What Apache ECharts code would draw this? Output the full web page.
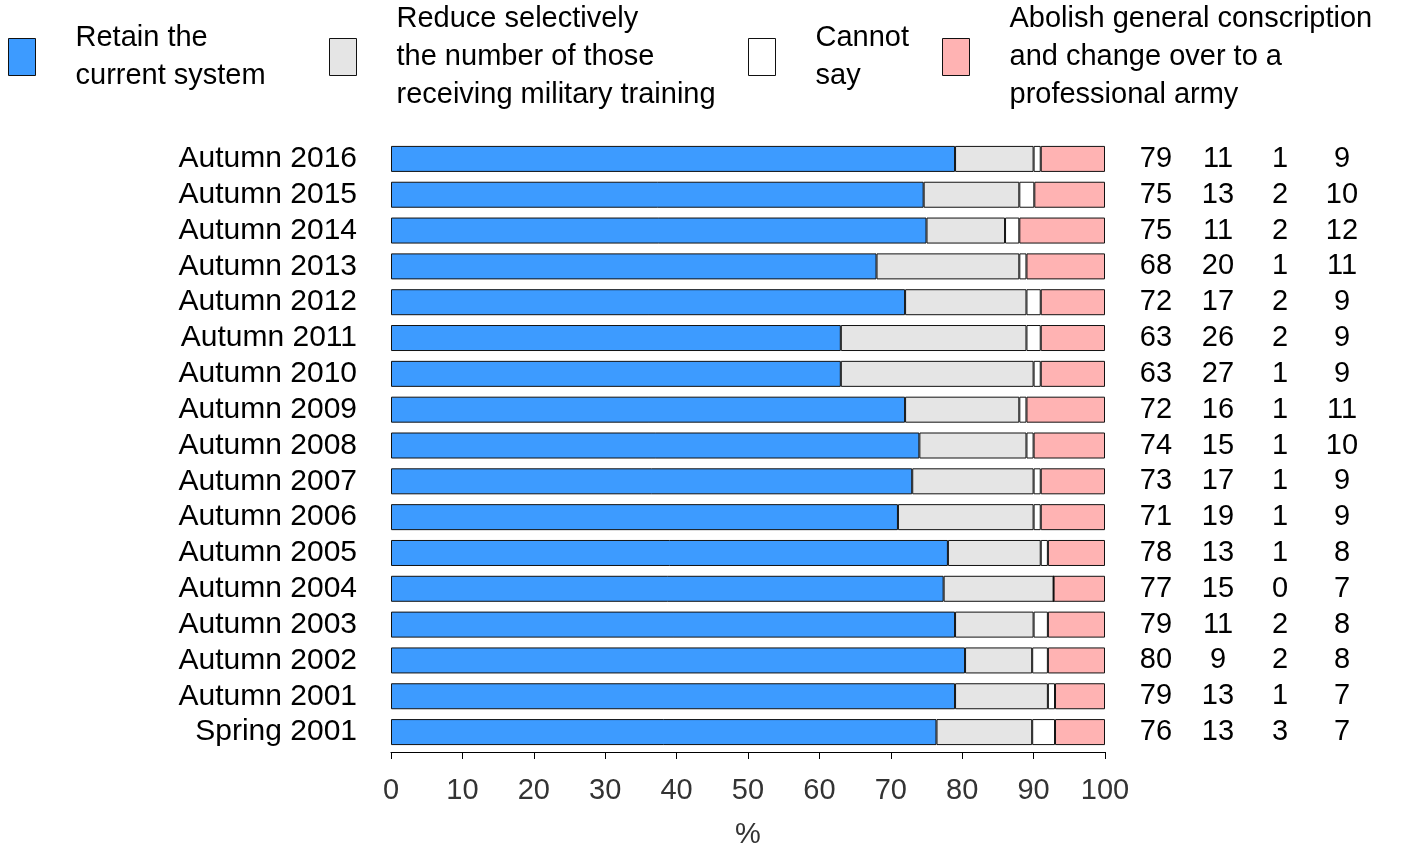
<!DOCTYPE html>
<html>
<head>
<meta charset="utf-8">
<script src="https://cdn.jsdelivr.net/npm/echarts@6/dist/echarts.min.js"></script>
<style>
html,body{margin:0;padding:0;background:#fff;}
#chart{width:1413px;height:848px;}
</style>
</head>
<body>
<div id="chart"></div>
<script>
const categories = ['Autumn 2016','Autumn 2015','Autumn 2014','Autumn 2013','Autumn 2012','Autumn 2011','Autumn 2010','Autumn 2009','Autumn 2008','Autumn 2007','Autumn 2006','Autumn 2005','Autumn 2004','Autumn 2003','Autumn 2002','Autumn 2001','Spring 2001'];
const seriesNames = ['Retain the\ncurrent system','Reduce selectively\nthe number of those\nreceiving military training','Cannot\nsay','Abolish general conscription\nand change over to a\nprofessional army'];
// bar lengths
const retain    = [79, 74.6, 75, 68, 72, 63, 63, 72, 74, 73, 71, 78, 77.4, 79, 80.4, 79, 76.4];
const reduce    = [11, 13.4, 11, 20, 17, 26, 27, 16, 15, 17, 19, 13, 15.4, 11, 9.4, 13, 13.4];
const cannotSay = [1, 2.1, 2, 1, 2, 2, 1, 1, 1, 1, 1, 1, 0, 2, 2.2, 1, 3.2];
const abolish   = [9, 9.9, 12, 11, 9, 9, 9, 11, 10, 9, 9, 8, 7.2, 8, 8, 7, 7];
// printed values on the right
const labelRetain  = [79,75,75,68,72,63,63,72,74,73,71,78,77,79,80,79,76];
const labelReduce  = [11,13,11,20,17,26,27,16,15,17,19,13,15,11,9,13,13];
const labelCannot  = [1,2,2,1,2,2,1,1,1,1,1,1,0,2,2,1,3];
const labelAbolish = [9,10,12,11,9,9,9,11,10,9,9,8,7,8,8,7,7];
const xTicks = [0,10,20,30,40,50,60,70,80,90,100];

const colors = ['#3d9bff','#e5e5e5','#ffffff','#ffb3b3'];
const FONT = 'Liberation Sans, Arial, sans-serif';

const chart = echarts.init(document.getElementById('chart'));
const values = [retain, reduce, cannotSay, abolish];
const labelCols = [labelRetain, labelReduce, labelCannot, labelAbolish];

const barSeries = values.map((arr, i) => ({
  name: seriesNames[i],
  type: 'bar',
  stack: 'total',
  xAxisIndex: 0, yAxisIndex: 0,
  barWidth: 26,
  itemStyle: { color: colors[i], borderColor: '#111', borderWidth: 1 },
  data: arr,
  animation: false
}));

const textData = [];
labelCols.forEach((col, c) => col.forEach((v, r) => textData.push({ value: [c, r], label: { formatter: String(v) } })));

const legendBase = (name, left, top) => ({
  data: [name], left: left, top: top, orient: 'horizontal', padding: 0,
  itemWidth: 27, itemHeight: 37, selectedMode: false,
  icon: 'rect',
  itemStyle: { borderColor: '#111', borderWidth: 1 },
  textStyle: { fontFamily: FONT, fontSize: 29, color: '#000', lineHeight: 38, padding: [0,0,0,35] }
});

chart.setOption({
  animation: false,
  backgroundColor: '#fff',
  legend: [
    legendBase(seriesNames[0], 8, 19),
    legendBase(seriesNames[1], 329, 0),
    legendBase(seriesNames[2], 748, 19),
    legendBase(seriesNames[3], 942, 0)
  ],
  grid: [
    { left: 391, right: 308, top: 141, bottom: 98, containLabel: false, outerBoundsMode: 'none' },
    { left: 1125, width: 248, top: 141, bottom: 98, containLabel: false, outerBoundsMode: 'none' }
  ],
  xAxis: [
    { type: 'value', gridIndex: 0, min: 0, max: 100, interval: 10, offset: 2,
      splitLine: { show: false },
      axisLine: { show: true, lineStyle: { color: '#000', width: 1 } },
      axisTick: { show: true, length: 7, lineStyle: { color: '#000' } },
      axisLabel: { fontFamily: FONT, fontSize: 29, color: '#333', margin: 24,
        formatter: v => xTicks.includes(v) ? String(v) : '' },
      name: '%', nameLocation: 'middle', nameGap: 68,
      nameTextStyle: { fontFamily: FONT, fontSize: 29, color: '#333' } },
    { type: 'category', gridIndex: 1, data: ['a','b','c','d'], show: false }
  ],
  yAxis: [
    { type: 'category', gridIndex: 0, data: categories, inverse: true,
      axisLine: { show: false }, axisTick: { show: false },
      axisLabel: { interval: 0, fontFamily: FONT, fontSize: 30, color: '#000', margin: 34, padding: [4,0,0,0] } },
    { type: 'category', gridIndex: 1, data: categories, inverse: true, show: false }
  ],
  series: barSeries.concat([{
    type: 'scatter', xAxisIndex: 1, yAxisIndex: 1, symbolSize: 0,
    itemStyle: { opacity: 1 },
    data: textData,
    label: { show: true, position: 'inside', fontFamily: FONT, fontSize: 29, color: '#000', padding: [4,0,0,0] },
    silent: true
  }])
});
</script>
</body>
</html>
